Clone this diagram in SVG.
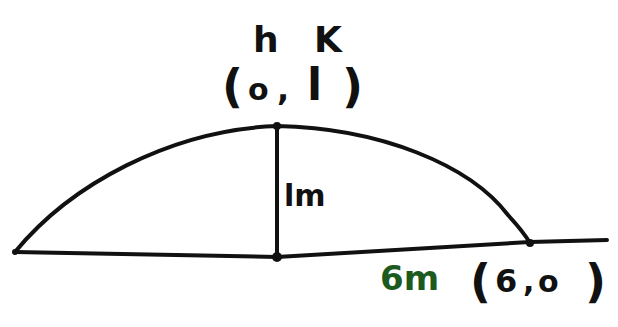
<svg xmlns="http://www.w3.org/2000/svg" width="618" height="327" viewBox="0 0 618 327">
<style>
.ln{fill:none;stroke:#111;stroke-width:4;stroke-linecap:round;stroke-linejoin:round}
.t{font-family:"DejaVu Sans","Liberation Sans",sans-serif;fill:#111;font-weight:bold}
.pt{fill:#111}
</style>
<rect width="618" height="327" fill="#fff"/>
<g id="connectors">
<path class="ln" d="M15,252 L277,257 L530,242 L607,240"/>
<path class="ln" d="M15,252 C70,185 170,130 277,126 C380,128 470,165 508,215 C520,228 526,236 530,243"/>
<path class="ln" d="M277,126 L277,257"/>
</g>
<g id="vertex">
<circle class="pt" cx="277" cy="126" r="4"/>
<text class="t" x="253" y="52" font-size="36">h</text>
<text class="t" x="314" y="52" font-size="36">K</text>
<text class="t" x="222" y="102" font-size="46">(</text>
<text class="t" x="248" y="100" font-size="30">o</text>
<text class="t" x="277" y="100" font-size="32">,</text>
<text class="t" x="307" y="100" font-size="44">l</text>
<text class="t" x="342" y="102" font-size="46">)</text>
</g>
<g id="center">
<circle class="pt" cx="277" cy="257" r="5"/>
<text class="t" x="284" y="206" font-size="30">lm</text>
</g>
<g id="left-end"><circle class="pt" cx="15" cy="252" r="3"/></g>
<g id="right-end">
<circle class="pt" cx="530" cy="243" r="4"/>
<text x="380" y="290" font-size="34" font-family="DejaVu Sans, sans-serif" fill="#1d5a1d" font-weight="bold">6m</text>
<text class="t" x="470" y="297" font-size="46">(</text>
<text class="t" x="495" y="292" font-size="32">6</text>
<text class="t" x="523" y="292" font-size="30">,</text>
<text class="t" x="538" y="292" font-size="30">o</text>
<text class="t" x="585" y="297" font-size="46">)</text>
</g>
</svg>
